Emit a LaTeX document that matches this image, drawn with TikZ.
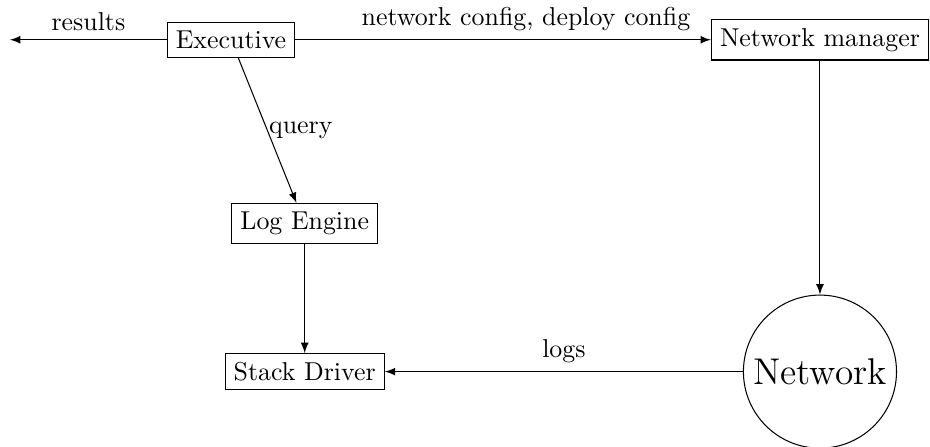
\documentclass[tikz,border=0pt]{standalone}
\usepackage{amsmath}
\usepackage{tikz}
\usetikzlibrary{positioning,arrows}

\tikzset{
	block/.style={draw, rectangle},
	cloud/.style={draw, circle, minimum size=2.08cm, inner sep=0pt, font=\Large},
	flow/.style={-latex}
}

\begin{document}
\begin{tikzpicture}
		\useasboundingbox (0,0) rectangle (12.636,-6.073);
		% Define nodes
		\node[block]	                 (exec)		at (3.139,-0.54) {Executive};
		\node[block]	 (netman)	at (11.141,-0.54)	{Network manager};
		\node[block]     (logeng)   at (4.14,-3.037)  {Log Engine};
		\node[block, below = 1.48cm of logeng]     (stack)     {Stack Driver};
		\node[cloud]     (net)   at (stack -| netman)  {Network};
		\coordinate (out) at (0.136,-0.54);
		% Edges
		\draw[flow] (exec) -- node[above] {results} (out);
		\draw[flow] (exec) -- node[above, pos=0.555] {network config, deploy config} (netman);
		\draw[flow] (exec) -- node[right, inner sep=0.5pt] {query} (logeng);
		\draw[flow] (logeng) -- (stack);
		\draw[flow] (netman) -- (net);
		\draw[flow] (net) -- node[above] {logs} (stack);
	\end{tikzpicture}
\end{document}
